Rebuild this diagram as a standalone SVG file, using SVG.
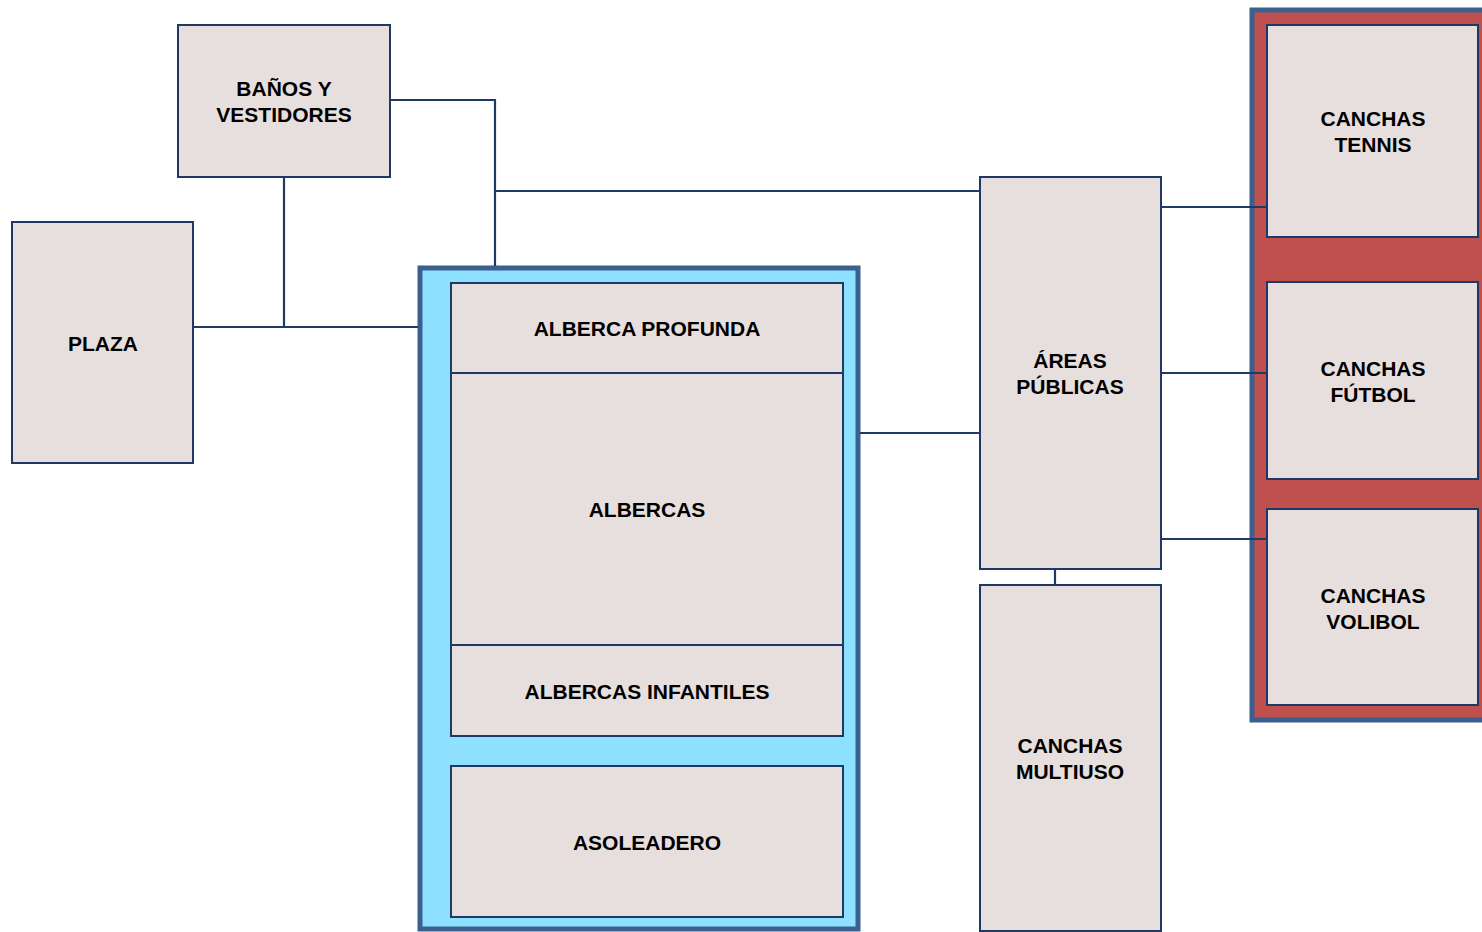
<svg xmlns="http://www.w3.org/2000/svg" width="1482" height="932" viewBox="0 0 1482 932">
<style>
.node{fill:#e7dfde;stroke:#1f3864;stroke-width:2}
.grp{stroke:#3b5f8f;stroke-width:5}
.conn{fill:none;stroke:#1f3a63;stroke-width:2.2}
text{font-family:"Liberation Sans",Arial,sans-serif;font-weight:bold;font-size:21px;fill:#000;text-anchor:middle}
</style>
<rect width="1482" height="932" fill="#ffffff"/>
<g id="group-albercas">
<rect x="420" y="268" width="438" height="661" fill="#8ee1fe" class="grp"/>
</g>
<g id="group-canchas">
<rect x="1252" y="10" width="240" height="710" fill="#c0504d" class="grp"/>
</g>
<g id="connectors">
<polyline class="conn" points="390,100 495,100 495,266"/>
<line class="conn" x1="495" y1="191" x2="979" y2="191"/>
<line class="conn" x1="284" y1="177" x2="284" y2="327"/>
<line class="conn" x1="193" y1="327" x2="418" y2="327"/>
<line class="conn" x1="860" y1="433" x2="979" y2="433"/>
<line class="conn" x1="1161" y1="207" x2="1267" y2="207"/>
<line class="conn" x1="1161" y1="373" x2="1267" y2="373"/>
<line class="conn" x1="1161" y1="539" x2="1267" y2="539"/>
<line class="conn" x1="1055" y1="569" x2="1055" y2="585"/>
</g>
<g id="banos">
<rect class="node" x="178" y="25" width="212" height="152"/>
<text x="284" y="96">BAÑOS Y</text>
<text x="284" y="122">VESTIDORES</text>
</g>
<g id="plaza">
<rect class="node" x="12" y="222" width="181" height="241"/>
<text x="103" y="351">PLAZA</text>
</g>
<g id="alberca-profunda">
<rect class="node" x="451" y="283" width="392" height="90"/>
<text x="647" y="336">ALBERCA PROFUNDA</text>
</g>
<g id="albercas">
<rect class="node" x="451" y="373" width="392" height="272"/>
<text x="647" y="517">ALBERCAS</text>
</g>
<g id="albercas-infantiles">
<rect class="node" x="451" y="645" width="392" height="91"/>
<text x="647" y="699">ALBERCAS INFANTILES</text>
</g>
<g id="asoleadero">
<rect class="node" x="451" y="766" width="392" height="151"/>
<text x="647" y="850">ASOLEADERO</text>
</g>
<g id="areas-publicas">
<rect class="node" x="980" y="177" width="181" height="392"/>
<text x="1070" y="368">ÁREAS</text>
<text x="1070" y="394">PÚBLICAS</text>
</g>
<g id="canchas-multiuso">
<rect class="node" x="980" y="585" width="181" height="346"/>
<text x="1070" y="753">CANCHAS</text>
<text x="1070" y="779">MULTIUSO</text>
</g>
<g id="canchas-tennis">
<rect class="node" x="1267" y="25" width="211" height="212"/>
<text x="1373" y="126">CANCHAS</text>
<text x="1373" y="152">TENNIS</text>
</g>
<g id="canchas-futbol">
<rect class="node" x="1267" y="282" width="211" height="197"/>
<text x="1373" y="376">CANCHAS</text>
<text x="1373" y="402">FÚTBOL</text>
</g>
<g id="canchas-volibol">
<rect class="node" x="1267" y="509" width="211" height="196"/>
<text x="1373" y="603">CANCHAS</text>
<text x="1373" y="629">VOLIBOL</text>
</g>
</svg>
